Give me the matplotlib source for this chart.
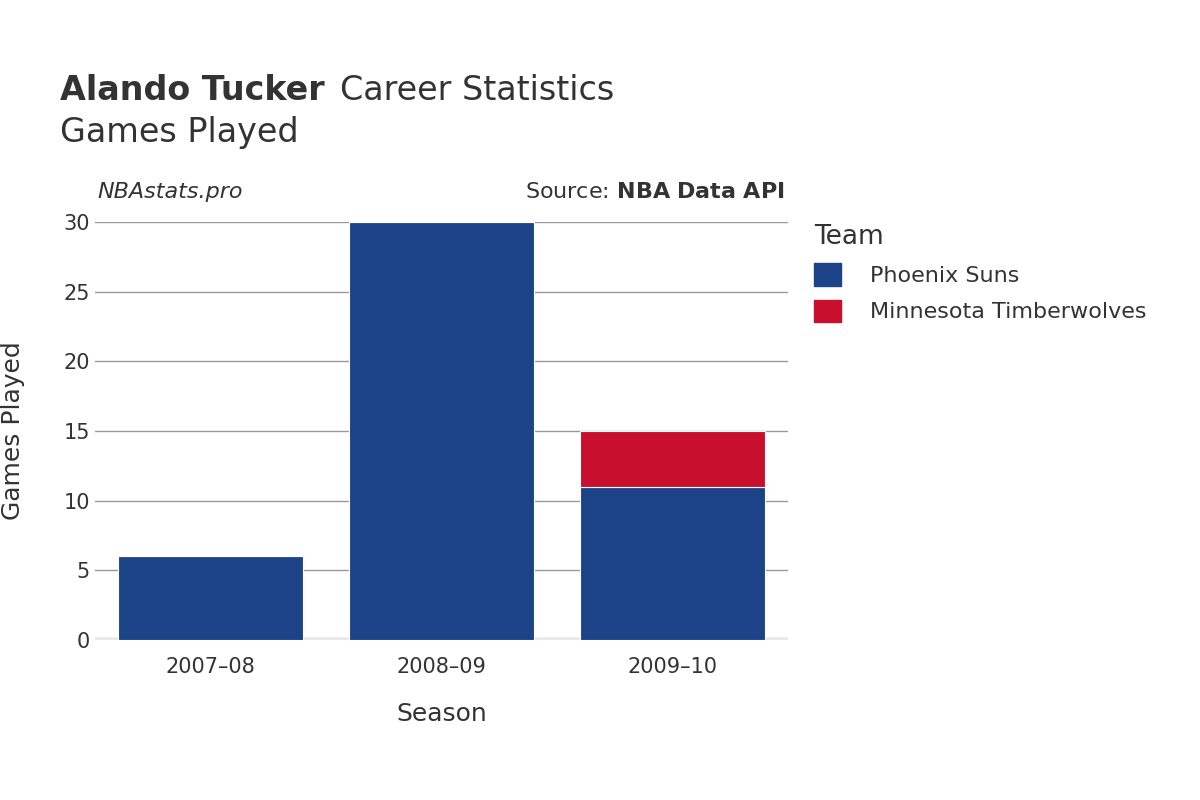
import matplotlib.pyplot as plt
import numpy as np

seasons = ['2007–08', '2008–09', '2009–10']
suns = [6, 30, 11]
wolves = [0, 0, 4]
teams = ['Phoenix Suns', 'Minnesota Timberwolves']
colors = ['#1c4387', '#c8102e']

fig = plt.figure(figsize=(12, 8), dpi=100)
ax = fig.add_axes([0.079, 0.2, 0.578, 0.5225])

x = np.arange(len(seasons))
ax.bar(x, suns, 0.8, color=colors[0], edgecolor='white', linewidth=0.8, zorder=3)
ax.bar(x, wolves, 0.8, bottom=suns, color=colors[1], edgecolor='white', linewidth=0.8, zorder=3)

ax.set_xlim(-0.5, 2.5)
ax.set_ylim(0, 30)
ax.set_yticks([0, 5, 10, 15, 20, 25, 30])
ax.set_xticks(x)
ax.set_xticklabels(seasons)
ax.grid(axis='y', color='#999999', linewidth=1, zorder=0)
for s in ax.spines.values():
    s.set_visible(False)
ax.axhline(0, color='#e8e8ee', linewidth=4, zorder=2)
ax.tick_params(length=0, labelsize=15, colors='#333333')
ax.tick_params(axis='x', pad=12)
ax.set_xlabel('Season', fontsize=18, color='#333333', labelpad=18)
ax.set_ylabel('Games Played', fontsize=18, color='#333333', labelpad=28)

fig.text(0.05, 0.875, 'Alando Tucker', fontsize=24, fontweight='bold', color='#333333')
fig.text(0.283, 0.875, 'Career Statistics', fontsize=24, color='#333333')
fig.text(0.05, 0.822, 'Games Played', fontsize=24, color='#333333')
fig.text(0.081, 0.752, 'NBAstats.pro', fontsize=16, style='italic', color='#333333')
fig.text(0.654, 0.752, 'Source: $\\bf{NBA\\ Data\\ API}$', fontsize=16, color='#333333', ha='right')

handles = [plt.Rectangle((0, 0), 1, 1, color=c) for c in colors]
leg = fig.legend(handles, teams, title='Team', loc='upper left', bbox_to_anchor=(0.662, 0.745),
                 frameon=False, fontsize=16, title_fontsize=19, handlelength=1.2, handleheight=1.2,
                 labelspacing=0.6, handletextpad=1.3)
leg._legend_box.align = 'left'
for t in leg.get_texts():
    t.set_color('#333333')
leg.get_title().set_color('#333333')

fig.savefig('out.png')
